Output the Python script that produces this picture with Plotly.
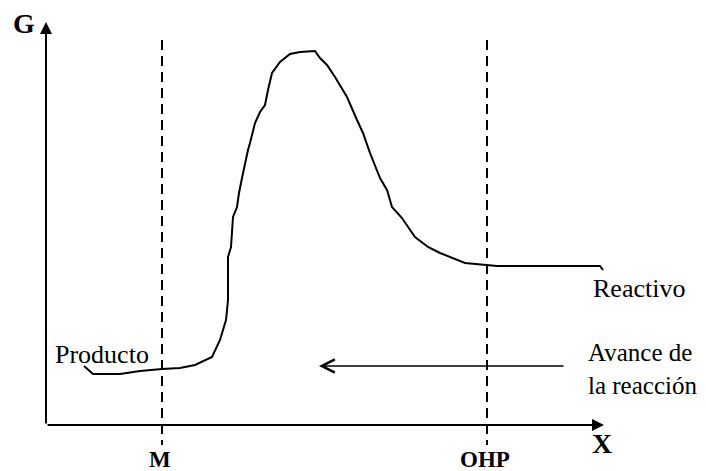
import plotly.graph_objects as go

# Free-energy profile along the reaction coordinate (screen-like units, y grows downward)
reaction_x = [84, 93, 120, 140, 162, 180, 195, 212, 220, 226, 228, 228, 231, 232, 233, 237,
              239, 242, 245, 248, 250, 255, 260, 265, 268, 272, 280, 290, 300, 315, 320, 327,
              335, 347, 357, 363, 370, 380, 387, 392, 402, 415, 428, 440, 465, 487, 497, 600, 603]
free_energy = [366, 374, 374, 371, 369, 368, 365, 357, 340, 320, 300, 257, 247, 233, 217, 207,
               193, 178, 163, 150, 143, 123, 112, 105, 90, 73, 62, 54, 52, 51, 58, 65,
               77, 97, 120, 133, 153, 178, 190, 207, 218, 237, 247, 253, 263, 265, 266, 266, 270]

# Reference planes (M and OHP) and axis geometry
plane_x = [162, 487]
plane_labels = ["M", "OHP"]
origin = (46, 425)
x_axis_end = 604
y_axis_top = 22

FONT = "Liberation Serif"

fig = go.Figure()
fig.add_trace(go.Scatter(x=reaction_x, y=free_energy, mode="lines",
                         line=dict(color="black", width=2, shape="linear"),
                         hoverinfo="skip", showlegend=False))

shapes = []
for px in plane_x:
    shapes.append(dict(type="line", xref="x", yref="y", x0=px, x1=px, y0=40, y1=445,
                       line=dict(color="black", width=2, dash="10px,6px")))

annotations = []
# Axes with arrowheads
annotations.append(dict(x=origin[0], y=y_axis_top, ax=origin[0], ay=origin[1],
                        xref="x", yref="y", axref="x", ayref="y", text="",
                        showarrow=True, arrowhead=2, arrowsize=1.2, arrowwidth=2,
                        arrowcolor="black", standoff=0))
annotations.append(dict(x=x_axis_end, y=origin[1], ax=origin[0], ay=origin[1],
                        xref="x", yref="y", axref="x", ayref="y", text="",
                        showarrow=True, arrowhead=2, arrowsize=1.2, arrowwidth=2,
                        arrowcolor="black", standoff=0))
# Direction of reaction progress
annotations.append(dict(x=319, y=366, ax=565, ay=366,
                        xref="x", yref="y", axref="x", ayref="y", text="",
                        showarrow=True, arrowhead=5, arrowsize=1.6, arrowwidth=1.6,
                        arrowcolor="black", standoff=0))

def label(text, x, y, size, bold=False, xanchor="center"):
    annotations.append(dict(x=x, y=y, xref="x", yref="y", showarrow=False,
                            text=f"<b>{text}</b>" if bold else text,
                            font=dict(family=FONT, size=size, color="black"),
                            xanchor=xanchor, yanchor="middle", align="left"))

label("G", 24, 23, 28, bold=True)
label("X", 602, 443, 28, bold=True)
for px, name in zip(plane_x, plane_labels):
    label(name, px - 2, 459, 23, bold=True)
label("Producto", 53, 354, 26, xanchor="left")
label("Reactivo", 591, 288, 26, xanchor="left")
label("Avance de<br>la reacción", 586, 369, 25, xanchor="left")

fig.update_layout(
    width=706, height=471,
    margin=dict(l=0, r=0, t=0, b=0),
    paper_bgcolor="white", plot_bgcolor="white",
    xaxis=dict(range=[0, 706], visible=False, fixedrange=True),
    yaxis=dict(range=[471, 0], visible=False, fixedrange=True),
    shapes=shapes, annotations=annotations,
)

fig.write_html("out.html")
